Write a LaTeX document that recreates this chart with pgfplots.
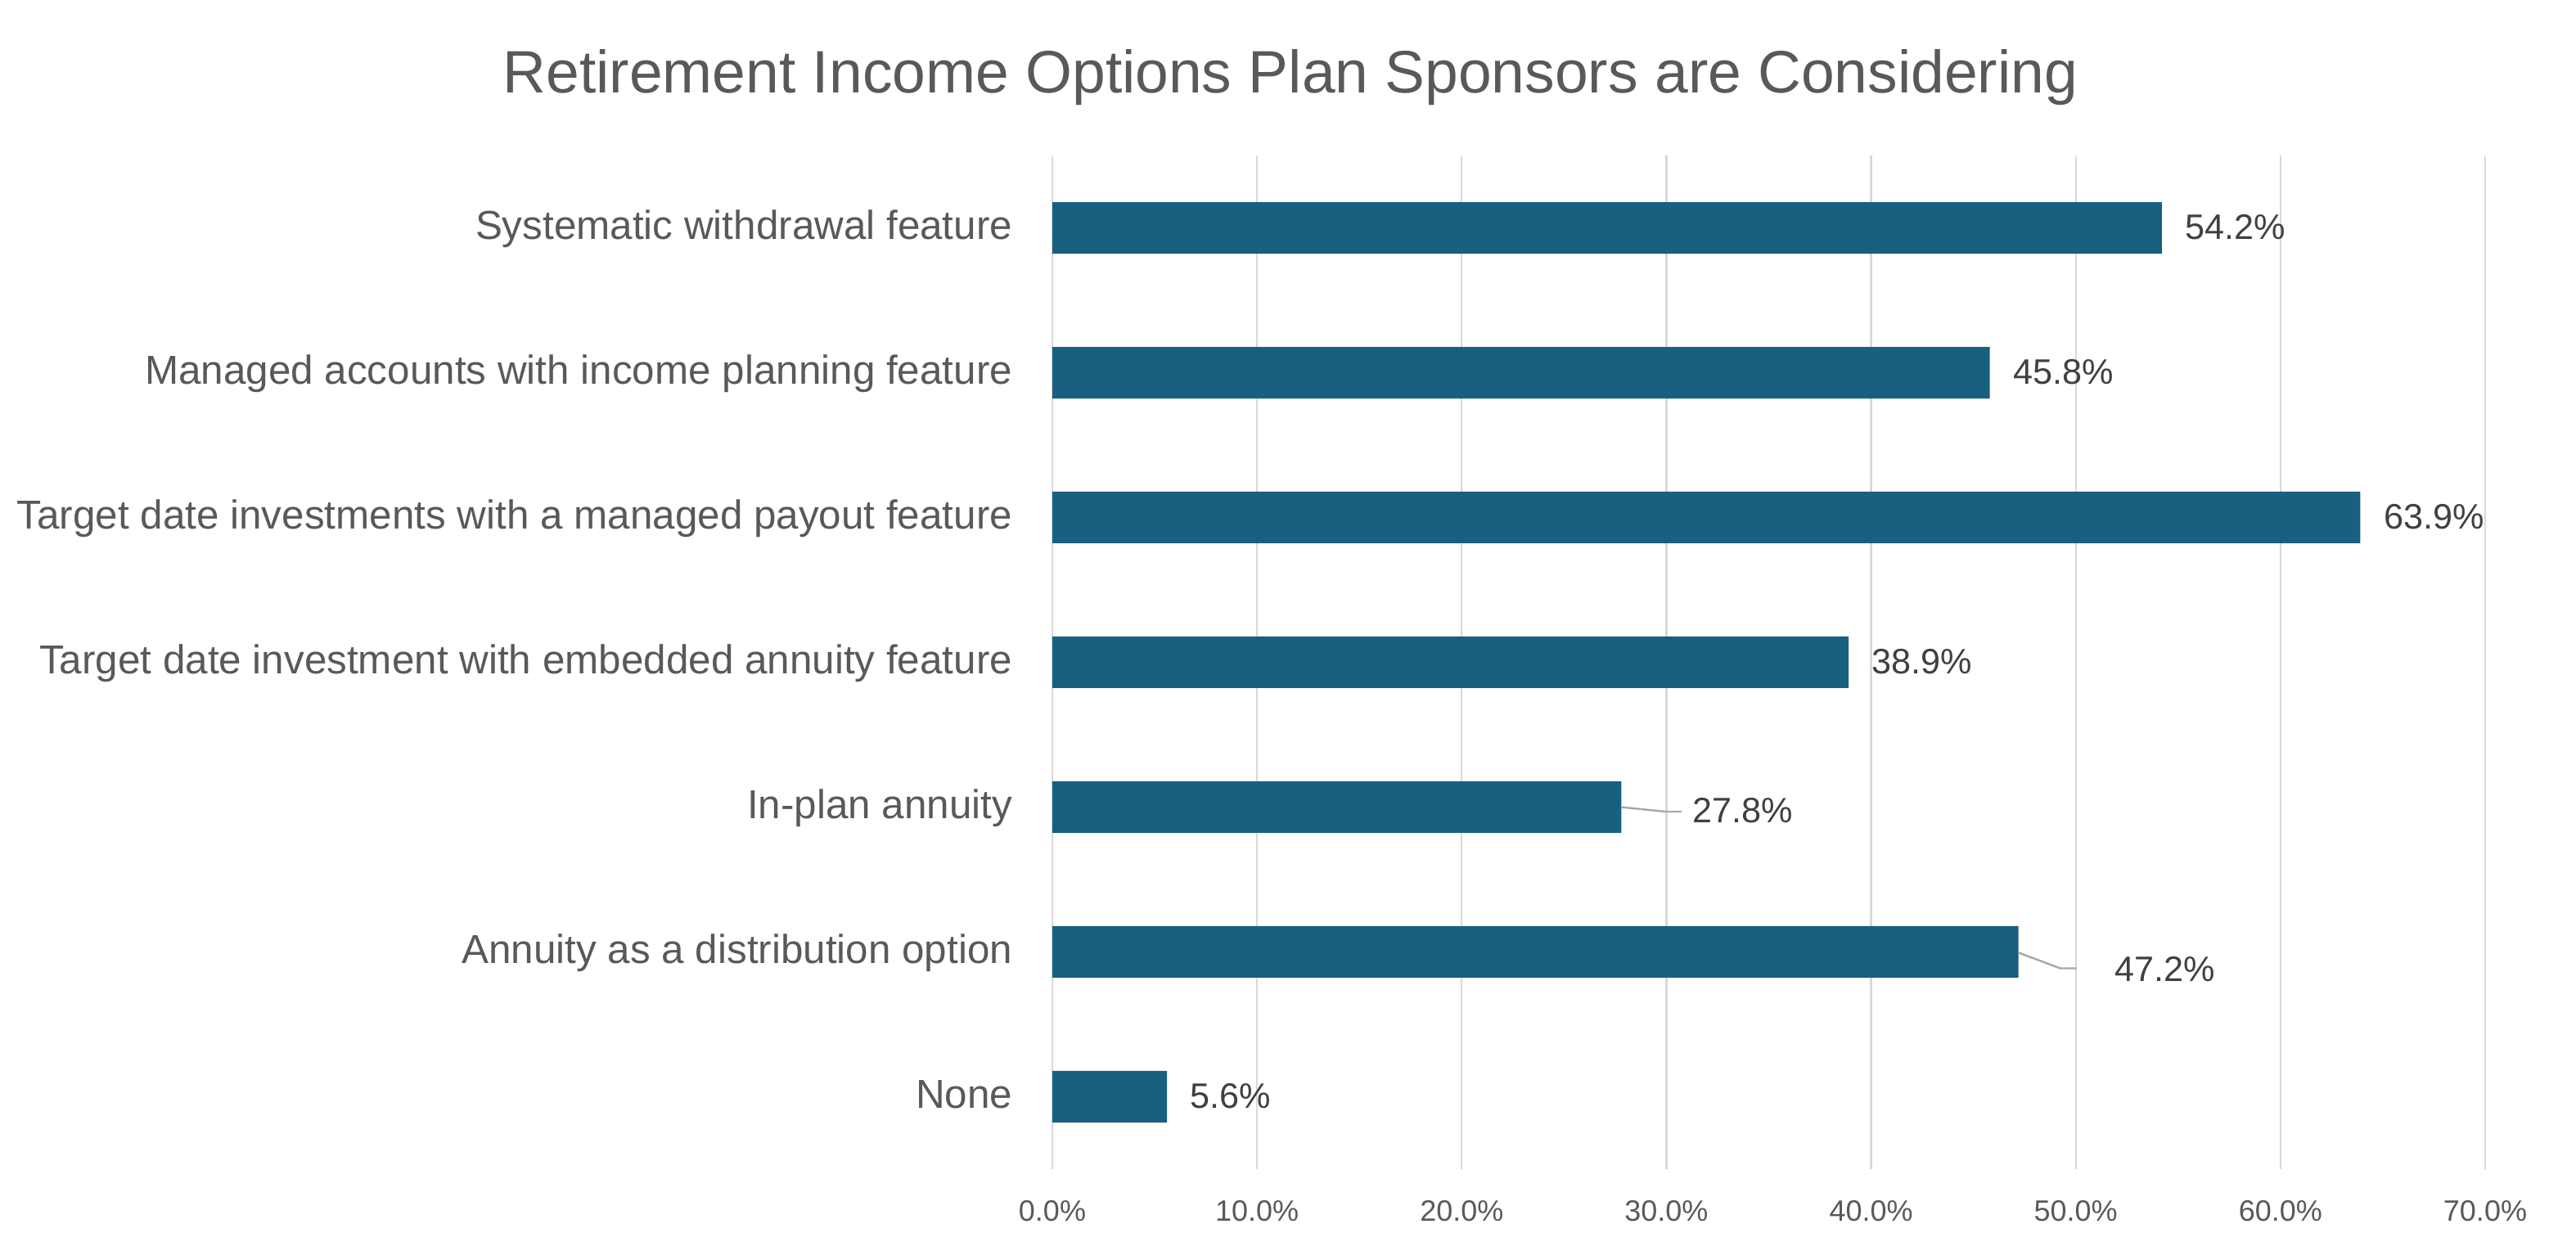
\documentclass[border=0pt]{standalone}
\usepackage{pgfplots}
\pgfplotsset{compat=1.18}
\usepackage{fontspec}
\setmainfont{Liberation Sans}

\definecolor{barblue}{HTML}{17607F}
\definecolor{labelgray}{HTML}{595959}
\definecolor{valgray}{HTML}{404040}
\definecolor{gridgray}{HTML}{D9D9D9}
\definecolor{leadgray}{HTML}{A6A6A6}

\begin{document}
\begin{tikzpicture}
\path[use as bounding box] (0,0) rectangle (787pt,385pt);

\node[anchor=base, text=labelgray, font=\fontsize{18.3}{22}\selectfont]
  at (394.25pt,356.5pt) {Retirement Income Options Plan Sponsors are Considering};

\begin{axis}[
  at = {(321.5pt,27.75pt)},
  anchor = south west,
  scale only axis,
  width = 437.75pt,
  height = 309.75pt,
  xmin = 0, xmax = 70,
  ymin = -0.5, ymax = 6.5,
  xtick = {0,10,...,70},
  ytick = {0,...,6},
  yticklabels = {
    None,
    Annuity as a distribution option,
    In-plan annuity,
    Target date investment with embedded annuity feature,
    Target date investments with a managed payout feature,
    Managed accounts with income planning feature,
    Systematic withdrawal feature},
  xticklabel = {\pgfmathprintnumber[fixed,fixed zerofill,precision=1]{\tick}\%},
  /pgf/number format/assume math mode = true,
  axis line style = {draw=none},
  major tick length = 0pt,
  xmajorgrids = true,
  ymajorgrids = false,
  grid style = {gridgray, line width=0.6pt},
  xticklabel style = {anchor=center, yshift=-12.25pt, inner sep=0pt,
    text height=0.716em, text depth=0pt,
    text=labelgray, font=\fontsize{9}{11}\selectfont},
  yticklabel style = {anchor=east, xshift=-12pt, inner sep=0pt,
    text height=0.716em, text depth=0pt,
    text=labelgray, font=\fontsize{12.35}{15}\selectfont},
  clip = false,
  value label/.style = {
    draw=none, mark=none, only marks,
    point meta=x,
    nodes near coords = {\pgfmathprintnumber[fixed,fixed zerofill,precision=1]{\pgfplotspointmeta}\%},
    nodes near coords style = {anchor=west, inner sep=0pt,
      text height=0.716em, text depth=0pt,
      text=valgray, font=\fontsize{10.8}{13}\selectfont, #1},
  },
]

% bars, bottom row first
\addplot[xbar, bar width=15.75pt, fill=barblue, draw=none] coordinates {
  (5.6,0) (47.2,1) (27.8,2) (38.9,3) (63.9,4) (45.8,5) (54.2,6)
};

% value labels next to the bar ends
\addplot[value label={xshift=7pt}] coordinates {
  (5.6,0) (38.9,3) (63.9,4) (45.8,5) (54.2,6)
};
\addplot[value label={xshift=21.5pt, yshift=-1.25pt}] coordinates {(27.8,2)};
\addplot[value label={xshift=29.25pt, yshift=-5.5pt}] coordinates {(47.2,1)};

% leader lines of the two moved labels
\addplot[leadgray, line width=0.6pt, mark=none] coordinates {
  (27.8,2.0) (29.94,1.969) (30.74,1.969)
};
\addplot[leadgray, line width=0.6pt, mark=none] coordinates {
  (47.2,0.995) (49.24,0.887) (50.04,0.887)
};

\end{axis}
\end{tikzpicture}
\end{document}
